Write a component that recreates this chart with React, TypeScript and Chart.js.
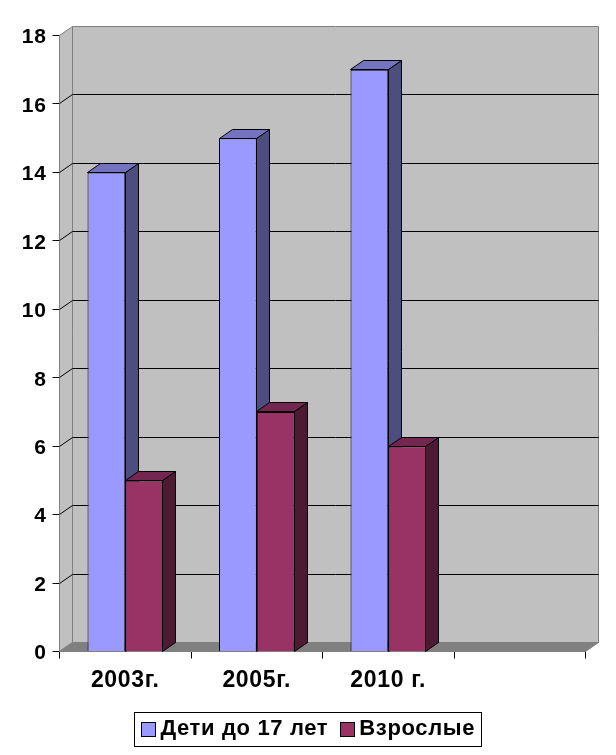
import React, { useEffect, useRef } from "react";
import { Chart, registerables } from "chart.js";

Chart.register(...registerables);

const categories = ["2003г.", "2005г.", "2010 г.", ""];
const childrenValues = [14, 15, 17, null];
const adultValues = [5, 7, 6, null];
const seriesNames = ["Дети до 17 лет", "Взрослые"];
const seriesColors = ["#9999FF", "#993366"];
const FONT = "'Liberation Sans', Arial, sans-serif";
const DX = 13;
const DY = -9;
const SPACING = "0.65px";
const LEGEND_SHIFT = 15.5;
const faces = [
  { top: "#7373BF", side: "#4D4D80" },
  { top: "#732650", side: "#4D1A33" },
];

function poly(ctx: CanvasRenderingContext2D, pts: number[][], fill: string, stroke?: string) {
  ctx.beginPath();
  pts.forEach((p, i) => (i ? ctx.lineTo(p[0], p[1]) : ctx.moveTo(p[0], p[1])));
  ctx.closePath();
  ctx.fillStyle = fill;
  ctx.fill();
  if (stroke) {
    ctx.strokeStyle = stroke;
    ctx.lineWidth = 1;
    ctx.stroke();
  }
}

const snap = (v: number) => Math.round(v - 0.5) + 0.5;

const box3d = {
  id: "box3d",
  beforeUpdate(chart: any) {
    chart.ctx.letterSpacing = SPACING;
  },
  afterLayout(chart: any) {
    const lg = chart.legend;
    if (lg) {
      lg.left += LEGEND_SHIFT;
      lg.right += LEGEND_SHIFT;
      lg.legendHitBoxes.forEach((b: any) => {
        b.left += LEGEND_SHIFT;
      });
    }
  },
  beforeDraw(chart: any) {
    chart.ctx.letterSpacing = SPACING;
  },
  beforeDatasetsDraw(chart: any) {
    const { ctx, chartArea: a, scales } = chart;
    const y = scales.y;
    const L = a.left, R = a.right, T = a.top, B = a.bottom;
    ctx.save();
    // walls
    poly(ctx, [[L + DX, T + DY], [R + DX, T + DY], [R + DX, B + DY], [L + DX, B + DY]], "#C0C0C0", "#808080");
    poly(ctx, [[L, T], [L + DX, T + DY], [L + DX, B + DY], [L, B]], "#C0C0C0", "#808080");
    poly(ctx, [[L, B], [L + DX, B + DY], [R + DX, B + DY], [R, B]], "#808080", "#808080");
    // gridlines
    ctx.strokeStyle = "#000";
    ctx.lineWidth = 1;
    y.ticks.forEach((t: any) => {
      if (t.value === y.min || t.value === y.max) return;
      const py = snap(y.getPixelForValue(t.value));
      ctx.beginPath();
      ctx.moveTo(L, py);
      ctx.lineTo(L + DX, py + DY);
      ctx.lineTo(R + DX, py + DY);
      ctx.stroke();
    });
    // bar depth faces
    chart.data.datasets.forEach((_: any, di: number) => {
      chart.getDatasetMeta(di).data.forEach((bar: any, i: number) => {
        if (chart.data.datasets[di].data[i] == null) return;
        const p = bar.getProps(["x", "y", "base", "width"], true);
        const x0 = snap(p.x - p.width / 2);
        const x1 = snap(p.x + p.width / 2);
        const top = snap(p.y);
        const base = snap(p.base);
        poly(ctx, [[x1, top], [x1 + DX, top + DY], [x1 + DX, base + DY], [x1, base]], faces[di].side, "#000");
        poly(ctx, [[x0, top], [x0 + DX, top + DY], [x1 + DX, top + DY], [x1, top]], faces[di].top, "#000");
      });
    });
    ctx.restore();
  },
  afterDraw(chart: any) {
    const boxes = chart.legend?.legendHitBoxes;
    if (!boxes?.length) return;
    const { ctx } = chart;
    const first = boxes[0];
    const last = boxes[boxes.length - 1];
    ctx.save();
    ctx.strokeStyle = "#000";
    ctx.lineWidth = 1;
    ctx.strokeRect(
      snap(first.left - 7),
      snap(first.top + first.height / 2 - 17),
      Math.round(last.left + last.width - first.left + 13),
      34
    );
    boxes.forEach((b: any, i: number) => {
      ctx.fillStyle = seriesColors[i];
      const sy = snap(b.top + b.height / 2 - 7);
      ctx.fillRect(snap(b.left), sy, 14, 14);
      ctx.strokeRect(snap(b.left), sy, 14, 14);
    });
    ctx.restore();
  },
};

export default function App() {
  const ref = useRef<HTMLCanvasElement>(null);
  useEffect(() => {
    const chart = new Chart(ref.current!, {
      type: "bar",
      plugins: [box3d],
      data: {
        labels: categories,
        datasets: [
          { label: seriesNames[0], data: childrenValues, backgroundColor: seriesColors[0], borderColor: "#000", borderWidth: 1, inflateAmount: 0 } as any,
          { label: seriesNames[1], data: adultValues, backgroundColor: seriesColors[1], borderColor: "#000", borderWidth: 1, inflateAmount: 0 } as any,
        ],
      },
      options: {
        responsive: false,
        animation: false,
        categoryPercentage: 0.574,
        barPercentage: 1,
        layout: { padding: { left: 0, right: 30.5, top: 35.5, bottom: 5 } },
        plugins: {
          title: { display: false },
          tooltip: { enabled: false },
          legend: {
            position: "bottom",
            labels: {
              boxWidth: 8,
              boxHeight: 14,
              padding: 12,
              color: "#000",
              font: { family: FONT, weight: "bold", size: 22 },
              generateLabels(c: any) {
                return Chart.defaults.plugins.legend.labels.generateLabels(c).map((l: any) => ({
                  ...l,
                  fillStyle: "rgba(0,0,0,0)",
                  strokeStyle: "rgba(0,0,0,0)",
                  lineWidth: 0,
                }));
              },
            },
          },
        },
        scales: {
          x: {
            grid: { drawOnChartArea: false, color: "#000", tickLength: 7, offset: true },
            border: { color: "#000" },
            ticks: { color: "#000", padding: 8, maxRotation: 0, autoSkip: false, font: { family: FONT, weight: "bold", size: 23 } },
            afterFit(s: any) { s.height = 54.5; },
          },
          y: {
            min: 0,
            max: 18,
            grid: { drawOnChartArea: false, color: "#000", tickLength: 7 },
            border: { color: "#000" },
            ticks: { stepSize: 2, color: "#000", padding: 6, labelOffset: 2, font: { family: FONT, weight: "bold", size: 21 } },
            afterFit(s: any) { s.width = 59.5; },
          },
        },
      } as any,
    });
    return () => chart.destroy();
  }, []);
  return (
    <div style={{ position: "absolute", left: 0, top: 0, width: 616, height: 755 }}>
      <canvas ref={ref} width={616} height={755} style={{ display: "block" }} />
    </div>
  );
}
